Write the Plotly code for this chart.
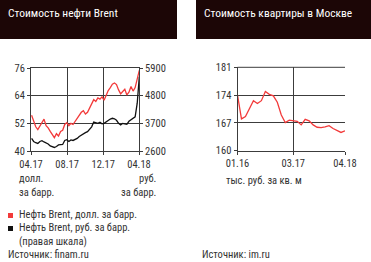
import plotly.graph_objects as go
import pandas as pd

W, H = 371, 262
def px(x): return x / W
def py(y): return 1 - y / H

# ---- data: Brent (weekly, 04.17 - 04.18)
brent_dates = pd.date_range("2017-04-03", periods=53, freq="7D")
brent_usd = [55.5, 53.0, 50.5, 49.3, 51.0, 52.5, 53.8, 51.0, 50.0, 48.5,
             47.0, 45.8, 47.5, 46.5, 48.5, 49.0, 51.5, 52.3, 51.0, 52.0,
             51.5, 52.8, 54.5, 55.5, 56.8, 57.5, 56.0, 56.8, 58.5, 60.5,
             62.3, 61.5, 63.0, 62.5, 63.5, 62.0, 64.5, 66.2, 67.5, 69.0,
             69.5, 68.8, 66.5, 64.8, 65.8, 66.8, 64.3, 65.5, 68.0, 66.0,
             67.5, 71.5, 75.0]
brent_rub = [3100, 2980, 2930, 2900, 2980, 3010, 2960, 2930, 2880, 2800,
             2760, 2740, 2780, 2840, 2850, 2860, 3020, 3050, 2980, 3040,
             3020, 3060, 3100, 3180, 3240, 3300, 3330, 3370, 3470, 3560,
             3750, 3720, 3700, 3740, 3680, 3700, 3760, 3820, 3870, 3900,
             3880, 3820, 3700, 3640, 3700, 3680, 3660, 3780, 3840, 3900,
             3960, 4500, 5550]
brent_xticks = ["2017-04-01", "2017-08-01", "2017-12-01", "2018-04-01"]
brent_xlabels = ["04.17", "08.17", "12.17", "04.18"]
usd_ticks = [40, 52, 64, 76]
rub_ticks = [2600, 3700, 4800, 5900]

# ---- data: Moscow flat price (monthly, 01.16 - 04.18)
flat_months = list(range(28))
flat_price = [174.0, 168.0, 168.6, 170.5, 172.6, 171.9, 172.6, 174.9, 174.2, 173.8,
              172.2, 169.0, 167.1, 167.7, 167.5, 167.4, 166.5, 167.9, 167.5, 166.5,
              165.9, 165.8, 166.0, 166.3, 165.6, 165.0, 164.6, 165.0]
flat_xticks = [0, 14, 27]
flat_xlabels = ["01.16", "03.17", "04.18"]
flat_yticks = [160, 167, 174, 181]

RED = "#f23a3a"
BLACK = "#111111"
GRID = "#3c3c3c"
TXT = "#333333"
FONT = "Roboto Condensed, DejaVu Sans Condensed, sans-serif"

fig = go.Figure()
fig.add_trace(go.Scatter(x=brent_dates, y=brent_usd, mode="lines",
                         line=dict(color=RED, width=1.3), xaxis="x", yaxis="y"))
fig.add_trace(go.Scatter(x=brent_dates, y=brent_rub, mode="lines",
                         line=dict(color=BLACK, width=1.3), xaxis="x", yaxis="y2"))
fig.add_trace(go.Scatter(x=flat_months, y=flat_price, mode="lines",
                         line=dict(color=RED, width=1.3), xaxis="x3", yaxis="y3"))

axcommon = dict(showgrid=True, gridcolor=GRID, gridwidth=1, zeroline=False,
                showline=True, linecolor=GRID, linewidth=1, automargin=False,
                ticks="outside", ticklen=3, tickcolor=GRID,
                tickfont=dict(family=FONT, size=10.5, color=TXT))

fig.update_layout(
    width=W, height=H, margin=dict(l=0, r=0, t=0, b=0, pad=0, autoexpand=False),
    paper_bgcolor="white", plot_bgcolor="white", showlegend=False,
    xaxis=dict(axcommon, domain=[px(31), px(139)], anchor="y", type="date",
               range=["2017-04-01", "2018-04-01"], tickvals=brent_xticks,
               ticktext=brent_xlabels, mirror=True),
    yaxis=dict(axcommon, domain=[py(151), py(68)], anchor="x", range=[40, 76],
               tickvals=usd_ticks),
    yaxis2=dict(axcommon, domain=[py(151), py(68)], anchor="x", overlaying="y",
                side="right", range=[2600, 5900], tickvals=rub_ticks, showgrid=False),
    xaxis3=dict(axcommon, domain=[px(237.5), px(345)], anchor="y3",
                range=[0, 27], tickvals=flat_xticks, ticktext=flat_xlabels, mirror=False),
    yaxis3=dict(axcommon, domain=[py(150.7), py(67.3)], anchor="x3", range=[160, 181],
                tickvals=flat_yticks),
)

# title bars
fig.add_shape(type="rect", xref="paper", yref="paper", x0=0, x1=px(177), y0=py(39), y1=1,
              fillcolor="#1c0606", line_width=0, layer="below")
fig.add_shape(type="rect", xref="paper", yref="paper", x0=px(196), x1=1, y0=py(39), y1=1,
              fillcolor="#1c0606", line_width=0, layer="below")
# right chart top line
fig.add_shape(type="line", xref="paper", yref="paper", x0=px(237.5), x1=px(345),
              y0=py(67.3), y1=py(67.3), line=dict(color=GRID, width=1))

def txt(x, y, s, size=10.5, color=TXT, xanchor="left", align="left"):
    fig.add_annotation(x=px(x), y=py(y), xref="paper", yref="paper", text=s,
                       showarrow=False, xanchor=xanchor, yanchor="middle", align=align,
                       borderpad=0, font=dict(family=FONT, size=size, color=color))

txt(7, 13, "Стоимость нефти Brent", size=11.5, color="white")
txt(203, 13, "Стоимость квартиры в Москве", size=11.5, color="white")

txt(18, 185, "долл.<br>за барр.")
txt(157, 185, "руб.<br>за барр.", xanchor="right", align="right")
txt(225, 180, "тыс. руб. за кв. м")

fig.add_shape(type="rect", xref="paper", yref="paper", x0=px(8), x1=px(13),
              y0=py(218), y1=py(213), fillcolor=RED, line_width=0)
fig.add_shape(type="rect", xref="paper", yref="paper", x0=px(8), x1=px(13),
              y0=py(231), y1=py(226), fillcolor=BLACK, line_width=0)
txt(18, 214, "Нефть Brent, долл. за барр.")
txt(18, 234, "Нефть Brent, руб. за барр.<br>(правая шкала)")
txt(7, 254, "Источник: finam.ru")
txt(201, 254, "Источник: im.ru")

fig.write_html("out.html", post_script="document.body.style.margin='0';")
